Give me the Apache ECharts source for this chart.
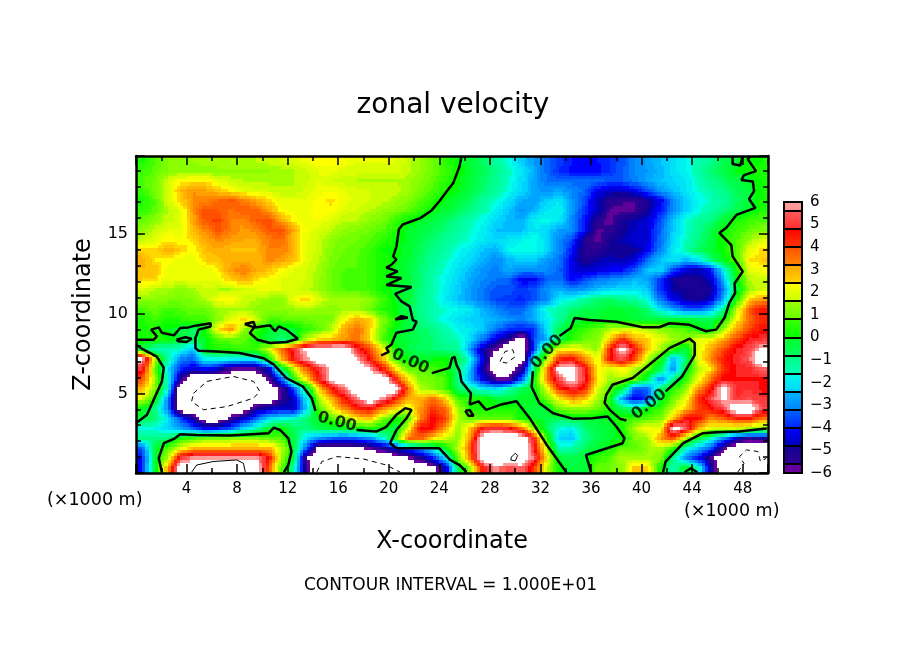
<!DOCTYPE html>
<html>
<head>
<meta charset="utf-8">
<title>zonal velocity</title>
<script src="https://cdn.jsdelivr.net/npm/echarts@6/dist/echarts.min.js"></script>
<style>
html, body { margin: 0; padding: 0; background: #fff; }
#main { width: 904px; height: 654px; }
</style>
</head>
<body>
<div id="main"></div>
<script>
var FONT = '"DejaVu Sans", sans-serif';
var Z_TOP = 19.9;

// zonal velocity, top row first, 1 km wide cells. white areas (off the scale) are 7 / -7
var rows = [
[0.3,0.8,1.2,1.3,1.4,1.5,1.6,1.6,1.6,1.6,1.7,1.8,1.9,2.1,2.4,2.3,2.2,2.0,2.0,2.0,2.0,1.7,1.4,1.0,0.5,0.1,-0.3,-0.7,-1.2,-1.7,-2.3,-2.8,-3.3,-3.7,-4.0,-4.1,-4.0,-3.8,-3.5,-3.0,-2.7,-2.4,-2.1,-1.8,-1.4,-1.1,-0.5,-0.1,0.1,0.2],
[0.6,0.9,1.2,1.3,1.3,1.3,1.3,1.4,1.4,1.4,1.4,1.5,1.6,1.8,2.0,2.1,1.9,1.9,1.9,1.9,1.9,1.7,1.4,1.0,0.6,0.2,-0.2,-0.6,-1.0,-1.5,-2,-2.6,-3.3,-3.8,-4.1,-4.2,-4.1,-3.8,-3.4,-3,-2.8,-2.5,-2.1,-1.8,-1.3,-0.8,-0.4,0,0.2,0.3],
[0.7,1.1,1.8,2.3,2.4,2.4,2.0,1.7,1.6,1.5,1.5,1.5,1.6,1.7,2,1.8,1.7,1.6,1.6,1.6,1.6,1.5,1.2,0.9,0.5,0.1,-0.3,-0.7,-1.1,-1.6,-2.1,-2.7,-3.2,-3.3,-3.3,-3.2,-3.3,-3.5,-3.4,-3.1,-2.7,-2.4,-2.2,-2.0,-1.5,-1.0,-0.7,-0.4,-0.1,0.2],
[0.6,1.1,1.8,2.8,3.2,3,2.7,2.3,2,1.9,1.8,1.7,1.6,1.9,2.1,2.2,2,1.9,1.8,1.7,1.7,1.5,1.1,0.7,0.3,0,-0.4,-0.8,-1.2,-1.7,-2.2,-2.7,-2.9,-2.7,-3,-3.3,-4.2,-4.6,-4.6,-4.2,-3.5,-2.8,-2.4,-2,-1.6,-1.3,-1.0,-0.6,-0.3,0.2],
[0.3,0.8,1.8,2.5,3.3,3.3,3.6,3.9,3.4,3,2.5,2,2,2,2.3,2.5,2.1,1.9,1.8,1.7,1.5,1.2,0.8,0.4,0,-0.3,-0.7,-1.2,-1.6,-2.1,-2.6,-2.8,-2.3,-2,-2.9,-3.6,-4.7,-5.3,-5.5,-5.6,-5,-4.2,-3,-2.3,-1.8,-1.5,-1.2,-0.7,-0.3,0.3],
[0.5,0.9,1.6,1.9,3.2,4,3.8,3.5,3.8,3.8,3.1,2.3,2.1,2.1,2.4,2.3,1.9,1.8,1.6,1.4,1.2,0.9,0.5,0.1,-0.2,-0.6,-1,-1.4,-1.9,-2.4,-2.9,-2.5,-2,-1.8,-2.8,-3.8,-4.5,-5.7,-5.8,-5.6,-4.9,-4,-3,-2.3,-1.7,-1.3,-0.9,-0.5,-0.1,0.3],
[0.9,1.3,1.7,1.9,3,3.9,4.1,3.4,3.3,3.8,4,3,2.3,2.1,2.2,1.9,1.7,1.6,1.3,1.1,0.6,0.2,-0.1,-0.4,-0.7,-1,-1.4,-1.8,-2.2,-2.5,-2.6,-1.9,-1.7,-2,-3,-4,-5.3,-5.8,-5,-4.7,-4.5,-3.5,-2.4,-1.6,-1.2,-0.9,-0.2,0.3,0.6,0.8],
[1.3,1.7,2,2,2.8,3.3,3.9,3.4,3.1,3.3,3.8,4,2.9,2.1,1.9,1.6,1.3,1.2,1,0.8,0.4,-0.1,-0.3,-0.6,-0.9,-1.2,-1.6,-1.9,-2.4,-2.5,-2.4,-2,-2.2,-2.8,-2.9,-4.1,-5.7,-5.5,-4.9,-4.6,-4.4,-3.3,-2.3,-1.6,-1.1,-0.4,0.2,0.6,0.9,1.2],
[1.7,2,2.4,2.2,2.5,3,3.3,3.1,3,3,3.4,3.6,2.8,2,1.7,1.3,1.1,1,0.8,0.5,0.2,-0.1,-0.5,-0.8,-1.1,-1.4,-1.7,-2,-2.2,-2.0,-1.8,-1.6,-2.2,-3,-3.6,-5.4,-5.7,-5,-4.7,-4.5,-4.4,-3.2,-2.2,-1.5,-0.9,-0.4,0.3,0.8,1.4,2],
[2.5,2.4,3,2.6,2.2,2.8,3,2.8,2.8,2.8,3.4,3.4,2.9,2,1.7,1.2,1,0.9,0.6,0.2,0.1,-0.1,-0.6,-1,-1.3,-1.7,-2,-2.4,-2.6,-1.8,-1.7,-1.6,-2.2,-3,-4,-5.3,-5.4,-4.9,-5,-4.9,-4.2,-3,-2,-1.4,-0.7,-0.2,0.2,0.8,2,2.5],
[3,2.4,2.3,2.1,2,2.6,2.7,3,3,2.8,3.3,3.1,2.7,2,1.6,1.1,0.9,0.8,0.5,0.3,0.1,-0.2,-0.7,-1.1,-1.5,-1.9,-2.2,-2.6,-3,-2.5,-2.3,-2.3,-2.8,-3.2,-4.3,-5.2,-4.8,-4.7,-4.8,-4.4,-3.2,-2.4,-2,-2.5,-2,-0.9,0.1,0.6,2.4,2.6],
[2.8,2.8,2.1,2,2,2,2.4,3.1,3.4,3,2.7,2.3,2,1.8,1.5,1,0.8,0.8,0.5,0.3,0,-0.3,-0.8,-1.3,-1.7,-2.1,-2.5,-2.9,-3.1,-2.6,-3,-3,-3,-3.3,-4.3,-4.6,-4.4,-4.2,-4,-3.4,-2.4,-2.2,-3.6,-4.5,-4.7,-4,-1.8,0.2,2,2.2],
[2.6,2.5,2,2,2,2,2.1,2.6,3,2.5,2.2,2,1.9,1.8,1.4,1,0.7,0.8,0.5,0.3,0,-0.3,-0.8,-1.4,-1.8,-2.2,-2.7,-3,-3.2,-3.3,-4.2,-4.2,-3.3,-3.2,-4.2,-3.6,-3.2,-3,-2.8,-2.5,-2.7,-3.8,-5,-5.3,-5,-4.6,-2.5,0,1.6,1.7],
[1.9,1.6,1.5,1.3,1.5,1.8,1.6,1.6,1.8,2,2,2,1.9,1.7,1.4,1,0.8,0.8,0.6,0.2,-0.1,-0.3,-0.9,-1.4,-1.9,-2.3,-2.8,-3.2,-3.5,-3.5,-3.7,-3.5,-2.9,-2.6,-3,-2.8,-2.4,-2.2,-2.1,-2,-2.4,-3.8,-4.8,-5,-5.2,-5,-3,-0.5,1.4,1.8],
[1.3,1.3,1.2,1.1,1.2,1.6,2.2,2.4,1.8,1.6,1.4,1.3,2.1,2.6,1.9,1.5,1.5,1.5,1.3,0.7,0,-0.2,-1,-1.4,-2,-2.4,-2.8,-3.2,-3.6,-3.7,-3.9,-3.5,-3,-1.9,-1.7,-1.2,-0.8,-0.6,-1,-1.2,-1.8,-3.2,-4.2,-4.8,-5,-4.5,-2.5,0.3,2.6,3.2],
[0.7,1,0.6,0.8,1,1,1.4,1.5,1.6,1.3,1.2,1.3,1.4,1.5,1.3,1.2,1.5,1.5,1,0.4,0.1,-0.5,-1,-1.4,-1.6,-1.8,-2,-2.6,-3,-3.4,-3.3,-2.6,-1.6,-1.3,-0.8,-0.5,-0.4,-0.2,-0.2,-0.3,-0.8,-2,-2.6,-3.3,-3.4,-2.6,-1,1.6,3.8,4.6],
[0.3,0.7,0.3,0.4,0.7,0.6,1.3,2,2.5,1.8,0.8,0.8,1,1,1.1,1.2,2.3,3,2.6,1.2,0.4,-0.4,-0.9,-1.4,-1.8,-2.1,-2.3,-2.4,-2.6,-2.9,-3.1,-2.6,-1.9,-1.2,-0.3,-0.2,-0.1,0,-0.1,-0.3,-0.4,-0.2,-0.3,-0.3,-0.4,-0.5,0.2,2.2,3.6,4.3],
[0.3,0.4,0,-0.2,-0.8,0.3,2.4,3.3,1.4,0.5,-0.1,-0.3,-0.2,0.5,0.9,1.6,3,3.6,2.6,1,0,-0.3,-0.7,-0.9,-1.4,-1.8,-2,-2.4,-3.2,-3.8,-4,-3.8,-2,-0.5,0.2,0.6,1,1.6,1.8,1.9,1.6,1.3,1,0.8,0.2,-0.1,1.6,3,4,4.6],
[0.2,0.5,0.2,-0.3,-0.6,0,0.8,1,0.9,0.3,-0.4,-0.9,-0.3,1.8,2.5,2.8,3.2,3.6,2.5,0.8,-0.1,-0.3,-0.6,-0.8,-1.2,-1.5,-2.2,-3.2,-4.5,-5.3,-7,-3.5,-2.6,-0.5,0.4,1,1.2,2.6,4.4,3,2.6,2,1.5,1.2,2,2.2,3,4,4.8,5],
[-0.3,-1.5,-1.4,-1.6,-2.5,0.1,0.3,0.4,0.6,0.6,1.8,3.5,5,6.2,7,7,7,5,4,2.3,0.3,-0.4,-0.7,-0.8,-1,-1.1,-3,-5,-5.8,-7,-7,-3.8,0.2,2.2,2.4,1.8,1.3,4.4,6.5,4.6,2.6,1.5,0.5,-0.4,2,3,4,4.8,5.2,6.2],
[6.2,1.5,-1.2,-3,-3.4,-1.6,-1.6,-1.8,-2,-2,0.2,2.8,4.8,5.8,7,7,7,6,4.6,3,0.7,0,-0.2,0,0.2,-0.4,-2,-4.5,-7,-7,-7,-1.5,1.5,4.3,4.6,3.3,2,4.6,5.3,4,1.6,0.3,-2.6,-0.8,2,3.3,4.5,4.9,5.4,7],
[5,1,-2,-3.8,-4.6,-4,-4.6,-5.6,-5.8,-5.6,-4.6,-0.5,1.8,3.8,5,6.2,7,7,6,4.6,2.6,1,0.8,0.7,0.3,-0.7,-2.6,-5,-7,-7,-5.2,-0.8,3.2,6.4,6.5,4.8,2.4,1.8,2.4,1.5,0.8,-0.5,-3,-0.2,1.6,2.5,4.3,4.8,4.9,5.6],
[4,1.4,-1.6,-5,-7,-7,-7,-7,-7,-7,-5.7,-3.5,0.4,2.5,4.6,6.5,7,7,7,7,4.5,2.4,1.2,1,0.7,-1,-2.8,-4.4,-5.7,-5.7,-3.5,0.1,3.4,5.4,6.6,5,2.5,1.4,1.6,1,-0.5,-3,-1,0.5,2,3.6,4.8,4.8,4.8,4.8],
[3,1.2,-1.7,-7,-7,-7,-7,-7,-7,-7,-7,-5.6,-3.5,-0.6,2.7,4.6,5.6,7,7,7,7,3.6,1.6,1.2,0.6,-0.6,-1.3,-2,-2.3,-1.4,-0.6,0,2,4.4,5,4.5,2,0.8,-0.3,-3.4,-3.3,-0.8,0.4,1.3,3.2,4.5,6.6,4.9,5,4.7],
[2,0.3,-3,-7,-7,-7,-7,-7,-7,-7,-7,-5.5,-4.5,-2,1.5,3,4.6,5.6,7,5.8,4.6,3,2.8,3.6,2.5,0.6,0.3,0.2,-0.2,-0.4,-0.1,-0.1,1.1,2.3,3.3,2.8,1.6,0.3,-3,-4.4,-3.6,-0.2,1,2,4.2,5.3,6.2,5,5.3,5],
[0.1,-1,-3,-7,-7,-7,-7,-7,-7,-5,-4.7,-4.4,-4.7,-2.2,0.8,2.2,3.4,4.4,4.7,3.5,2.6,1.8,3.2,4.2,3.6,1.5,0.2,0.4,0.3,0.4,0.1,-0.4,-0.2,1.1,1.4,1.4,1,0.3,-0.6,-0.8,0.1,0.6,1.7,2.7,4,4.6,5.2,7,7,5.2],
[-0.3,-0.8,-2,-3.6,-5,-7,-7,-5.5,-4.6,-3.4,-2.2,-1.8,-1.5,-0.8,0.1,0.8,1.4,2.4,2.8,1.3,0.2,0.6,3.3,4.8,4,1.6,0.8,1,1,0.9,0.2,-0.1,-0.5,-0.5,-0.3,-0.3,-0.2,-0.1,0.5,0.6,0.8,1.2,2.6,4.8,4.6,3.2,3.8,4.4,4.6,3.5],
[-1.7,-1.8,-2.2,-2.6,-3.5,-4.2,-4,-3.4,-2.2,-1.4,-0.2,0.1,-0.6,-0.9,-0.5,-0.3,-0.1,0.1,0.3,0.1,-0.5,2,4.7,4.6,3,1.4,2.8,4.8,5,4.8,3.6,1.2,-0.5,-1.7,-1.9,-0.8,-0.4,-0.2,0.4,1.6,2.3,2,6.5,5.4,2.9,2,1.8,1.8,1.5,1],
[-1,-1,-0.8,0.3,0.7,1,1.1,1.2,1.3,1.3,1,0.8,-0.5,-2.2,-3,-3.4,-3.6,-3.4,-3,-2,0.2,3.6,3.8,2.4,1.8,1.2,3.4,7,7,7,7,4.6,0.4,-2.2,-2.4,-1,-0.5,-0.2,0.1,1.2,1.4,3.2,4,1.5,-0.3,-1.5,-3,-4.5,-5.5,-5],
[-3.5,-0.3,0.8,2,2.8,3,3,3,3,3,3,1.8,-0.3,-3.5,-6.5,-6.5,-6.5,-6.2,-5.8,-5.2,-4.5,-3.6,-2.8,-1.6,0.1,1.6,4,7,7,7,7,5,1.8,-1.5,-1.2,-0.6,-0.2,0.3,0.9,0.8,1.4,1.6,0.5,-1.6,-2.5,-3.5,-5.7,-7,-7,-7],
[-4,-0.3,1.5,5,5.8,5.9,5.9,5.9,5.9,5.9,4.6,1.5,-0.5,-6,-7,-7,-7,-7,-7,-7,-6.5,-6,-5.2,-4,-2,1,3.6,7,7,7,7,5.4,2.2,-0.3,-0.6,-0.2,0.5,0.8,1.6,1.4,1.5,1.2,-1,-3,-4,-5.5,-7,-7,-7,-7],
[-4,-0.2,3,6.8,7,7,7,7,7,7,3.8,1,-1.3,-5.5,-7,-7,-7,-7,-7,-7,-7,-7,-7,-6.5,-4.5,-0.5,1.5,4.8,5.8,5.2,5.6,4.2,1.8,0.1,-0.4,-0.2,1,1,1.4,2.8,2.5,0.3,-1.5,0.1,-1.5,-5,-7,-7,-7,-7]
];

// colour bar: band edges and the two end colours of every band
var bandEdges = [-6,-5.6,-4.8,-4,-3.2,-2.4,-1.6,-0.8,0,0.8,1.6,2.4,3.2,4,4.8,5.6,6];
var bandColors = [
['#7000a0','#5c0098'],['#300090','#100098'],['#0000b8','#0000ff'],['#0020ff','#0068ff'],
['#0080ff','#00b8ff'],['#00d0ff','#00ffe8'],['#00ffb8','#00ff80'],['#00ff60','#00ff28'],
['#00ff00','#40ff00'],['#60ff00','#a0ff00'],['#c8ff00','#ffff00'],['#ffd800','#ffa000'],
['#ff8800','#ff5000'],['#ff3800','#ff0000'],['#ff2828','#ff6060'],['#ff9090','#ffa0a0']
];
var barTicks = [-6,-5,-4,-3,-2,-1,0,1,2,3,4,5,6];

// zero contour, traced in km
var zeroContours = [
[[25.75,19.9],[25.6,19.26],[25.1,18.2],[24.8,17.9],[24,17.06],[23.4,16.5],[22.5,16],[21.1,15.6],[20.8,15.3],[20.6,14.2],[20.35,13.6],[20.6,13.4],[20.2,13.07],[19.8,12.9],[20.7,12.66],[19.8,12.34],[21,12.24],[19.8,11.8],[21.8,11.67],[20.5,11.25],[21,10.77],[21.65,10.46],[21.9,9.6],[22.2,9.5],[21.9,9],[20.6,8.8],[20.2,8.05],[19.8,7.84],[20,7.6],[19.4,7.38]],
[[23.4,6.27],[24.8,6.6],[25,7.2],[25.2,7.3],[25.35,6.8],[25.6,6.4],[25.75,5.75],[26.5,5],[26.4,4.3],[27.1,4.5],[27.7,3.96],[28.8,4.28],[30.1,4.5],[31.15,3.44],[32.5,1.76],[34.05,0.05]],
[[33.5,8.6],[34.4,9.1],[34.7,9.73],[35.9,9.6],[38,9.5],[40.1,9.15],[41.4,9.15],[42.2,9.4],[43.8,9.3],[45.1,8.9],[45.9,9],[46.55,9.73],[46.95,10.7],[47.4,11.3],[47.35,11.9],[48,12.65],[47.2,13.6],[47.1,14.3],[46.15,15.07],[46.7,15.4],[47.5,16.2],[49,16.64],[48.5,17.2],[48.9,17.7],[48.8,18.3],[47.9,18.4],[48.1,18.7],[49.05,18.95],[48.4,19.7],[48.6,19.9]],
[[47.2,19.9],[47.2,19.4],[47.8,19.3],[48,19.9]],
[[31.4,6.4],[31.3,5.4],[31.9,4.4],[33,3.75],[34.6,3.4],[36.1,3.44],[37.3,3.55],[38,2.92],[38.65,2.18],[38.5,1.87],[35.6,1.13],[36,0.05]],
[[38.8,3.3],[38.3,3.4],[37.5,3.95],[37.07,4.4],[37.2,4.9],[37.7,5.54],[39.3,5.96],[40.6,6.8],[42.2,7.84],[43.8,8.43],[44.2,8.16],[44.2,7.4],[43.2,6.06],[41.9,5.12]],
[[41.7,0.05],[41.9,0.72],[43.3,1.87],[44.85,2.5],[45.9,2.56],[47.7,2.6],[49.9,2.8]],
[[43.4,0.05],[43.9,0.3],[44.4,0.05]],
[[0,8.37],[1.4,8.37],[1.65,8.58],[1.2,9],[1.8,9.14],[2.05,8.8],[3,8.64],[3.5,9.1],[4.15,9.14],[4.7,9.25],[5.9,9.4],[5.9,9.2],[4.95,9],[4.7,8.47],[4.7,7.84],[4.95,7.68],[6.4,7.63],[8.2,7.53],[10.1,7.2],[10.9,6.8],[11.9,5.96],[13.2,5.43],[13.9,4.7],[14.2,3.9]],
[[17.45,2.7],[19,2.6],[19.8,2.9],[20.6,3.65],[21.3,4.07],[21.8,3.96],[21.4,3.44],[20.6,2.7],[20.1,1.87],[20.6,1.55],[21.9,1.55],[24,1.55],[24.85,0.82],[25.6,0.5],[26.15,0.05]],
[[3.2,8.37],[3.9,8.52],[4.4,8.43],[4,8.22],[3.35,8.27],[3.2,8.37]],
[[8.6,9.35],[9.3,9.48],[9.45,9.14],[10.6,9.27],[11,8.9],[11.3,9.2],[11.9,9],[12.8,8.43],[11.9,8.22],[10.6,8.16],[9.6,8.37],[9,8.79],[9.35,9.14],[8.6,9.35]],
[[20.5,9.63],[21,9.85],[21.5,9.75],[20.5,9.63]],
[[0,3.13],[0.87,3.65],[1.4,4.6],[2.05,5.75],[2.2,6.6],[1.65,7.3],[0.6,7.74],[0,8.05]],
[[2.05,0.05],[1.8,0.93],[2.2,1.87],[3,2.14],[3.5,2.44],[4.8,2.39],[7.45,2.35],[10.5,2.5],[10.9,2.85],[11.4,2.7],[12.05,2.18],[12.3,1.35],[12.05,0.5],[11.7,0.05]],
[[26.05,3.9],[26.4,3.95],[26.7,3.6],[26.3,3.6],[26.05,3.9]]
];
var labelPoints = [[15.9,3.2,-15],[21.7,7,-25],[32.5,7.6,48],[40.6,4.3,38]];
// -10 contours dashed, +10 contours thin and solid
var dashedContours = [
[[4.55,5],[5.6,5.75],[7.7,6.06],[9.3,5.75],[9.8,5.12],[9.3,4.7],[7.2,4.17],[5.35,3.97],[4.4,4.49],[4.55,5]],
[[14.3,0.05],[14.7,0.72],[15.9,1.03],[18,0.88],[19.8,0.5],[20.9,0.05]],
[[28.8,7],[29.2,7.63],[29.8,7.74],[30,7.3],[29.3,6.9],[28.8,7]],
[[47.6,0.05],[48.1,0.6],[47.75,1.03],[48.3,1.45],[49.2,1.35],[49.4,0.72],[49.85,0.92]]
];
var thinContours = [
[[4.4,0.05],[4.8,0.5],[6.1,0.72],[7.97,0.82],[8.5,0.61],[8.65,0.05]],
[[29.7,1],[30,1.24],[30.2,1.1],[30,0.76],[29.65,0.82],[29.7,1]]
];

// stepped colour, four shades inside every band
function colorOf(v) {
    if (v > 6 || v < -6) return '#ffffff';
    for (var b = 0; b < bandColors.length; b++) {
        if (v <= bandEdges[b + 1]) {
            var f = (v - bandEdges[b]) / (bandEdges[b + 1] - bandEdges[b]);
            return echarts.color.lerp(Math.min(3, Math.floor(f * 4)) / 3, bandColors[b]);
        }
    }
    return '#ffffff';
}

var dz = Z_TOP / rows.length;
var cells = [];
rows.forEach(function (row, r) {
    row.forEach(function (v, i) {
        cells.push([i + 0.5, Z_TOP - dz * (r + 0.5), v, i, r]);
    });
});

// rows holds only what was read off the picture. each cell is shaded at draw time,
// blending to its neighbours like a filled contour plot does; nothing is added to the data
var SUB_X = 4, SUB_Z = 3;
function shadeAt(u, v) {
    u = Math.max(0, Math.min(rows[0].length - 1, u));
    v = Math.max(0, Math.min(rows.length - 1, v));
    var i = Math.min(Math.floor(u), rows[0].length - 2), r = Math.min(Math.floor(v), rows.length - 2);
    var fu = u - i, fv = v - r;
    return (rows[r][i] * (1 - fu) + rows[r][i + 1] * fu) * (1 - fv) +
        (rows[r + 1][i] * (1 - fu) + rows[r + 1][i + 1] * fu) * fv;
}

function renderCell(params, api) {
    var x = api.value(0), z = api.value(1), i = api.value(3), r = api.value(4);
    var children = [];
    for (var a = 0; a < SUB_X; a++) {
        for (var b = 0; b < SUB_Z; b++) {
            var p0 = api.coord([x - 0.5 + a / SUB_X, z + dz / 2 - dz * b / SUB_Z]);
            var p1 = api.coord([x - 0.5 + (a + 1) / SUB_X, z + dz / 2 - dz * (b + 1) / SUB_Z]);
            var left = Math.round(p0[0]), top = Math.round(p0[1]);
            children.push({
                type: 'rect',
                shape: { x: left, y: top, width: Math.round(p1[0]) - left, height: Math.round(p1[1]) - top },
                style: { fill: colorOf(shadeAt(i + (a + 0.5) / SUB_X - 0.5, r + (b + 0.5) / SUB_Z - 0.5)) }
            });
        }
    }
    return { type: 'group', children: children };
}

function renderBand(params, api) {
    var top = api.coord([0, api.value(2)]), bot = api.coord([1, api.value(1)]);
    var c = bandColors[params.dataIndex];
    return {
        type: 'rect',
        shape: { x: top[0], y: Math.round(top[1]), width: bot[0] - top[0], height: Math.round(bot[1]) - Math.round(top[1]) },
        style: {
            fill: new echarts.graphic.LinearGradient(0, 1, 0, 0, [{ offset: 0, color: c[0] }, { offset: 1, color: c[1] }]),
            stroke: '#000', lineWidth: 2
        }
    };
}

function lineSeries(points, width, dashed) {
    return {
        type: 'line', data: points, showSymbol: false, silent: true, z: 4, clip: true,
        lineStyle: { color: '#000', width: width, type: dashed ? [5, 4] : 'solid' }
    };
}

var series = [{
    type: 'custom', data: cells, renderItem: renderCell, encode: { x: 0, y: 1 }, silent: true, z: 2
}];
zeroContours.forEach(function (c) { series.push(lineSeries(c, 2.5, false)); });
dashedContours.forEach(function (c) { series.push(lineSeries(c, 1, true)); });
thinContours.forEach(function (c) { series.push(lineSeries(c, 1, false)); });
series.push({
    type: 'scatter', symbolSize: 0, silent: true, z: 5,
    data: labelPoints.map(function (p) {
        return {
            value: [p[0], p[1]],
            label: { show: true, position: 'inside', formatter: '0.00', rotate: p[2], color: '#000', fontFamily: FONT, fontSize: 16, fontWeight: 'bold' }
        };
    })
});
series.push({
    type: 'custom', xAxisIndex: 2, yAxisIndex: 2, silent: true, z: 3,
    data: bandColors.map(function (c, b) { return [0, bandEdges[b], bandEdges[b + 1]]; }),
    renderItem: renderBand, encode: { y: [1, 2] }
});

var axisLine = { show: true, onZero: false, lineStyle: { color: '#000', width: 2.5 } };
var tickStyle = { color: '#000', width: 1.5 };

var option = {
    animation: false,
    backgroundColor: '#fff',
    title: {
        text: 'zonal velocity', left: 448, top: 87, textAlign: 'center',
        textStyle: { fontFamily: FONT, fontSize: 28, fontWeight: 'normal', color: '#000' }
    },
    grid: [
        { left: 136, top: 156, width: 632, height: 317 },
        { left: 784, top: 202, width: 18, height: 271 }
    ],
    xAxis: [
        {
            type: 'value', gridIndex: 0, min: 0, max: 50, interval: 4, z: 6, position: 'bottom',
            name: 'X-coordinate', nameLocation: 'middle', nameGap: 57,
            nameTextStyle: { fontFamily: FONT, fontSize: 24, color: '#000' },
            axisLine: axisLine, splitLine: { show: false },
            axisTick: { inside: true, length: 9, lineStyle: tickStyle },
            minorTick: { show: true, splitNumber: 2, length: 5, lineStyle: tickStyle },
            axisLabel: { margin: 9, showMinLabel: false, showMaxLabel: false, fontFamily: FONT, fontSize: 15, color: '#000' }
        },
        {
            type: 'value', gridIndex: 0, min: 0, max: 50, interval: 4, z: 6, position: 'top',
            axisLine: axisLine, splitLine: { show: false },
            axisTick: { inside: true, length: 9, lineStyle: tickStyle },
            minorTick: { show: true, splitNumber: 2, length: 5, lineStyle: tickStyle },
            axisLabel: { show: false }
        },
        { type: 'value', gridIndex: 1, min: 0, max: 1, show: false }
    ],
    yAxis: [
        {
            type: 'value', gridIndex: 0, min: 0, max: Z_TOP, interval: 5, z: 6, position: 'left',
            name: 'Z-coordinate', nameLocation: 'middle', nameGap: 40, nameRotate: 90,
            nameTextStyle: { fontFamily: FONT, fontSize: 24, color: '#000' },
            axisLine: axisLine, splitLine: { show: false },
            axisTick: { inside: true, length: 9, lineStyle: tickStyle },
            minorTick: { show: true, splitNumber: 5, length: 5, lineStyle: tickStyle },
            axisLabel: { margin: 8, showMinLabel: false, showMaxLabel: false, fontFamily: FONT, fontSize: 16, color: '#000' }
        },
        {
            type: 'value', gridIndex: 0, min: 0, max: Z_TOP, interval: 5, z: 6, position: 'right',
            axisLine: axisLine, splitLine: { show: false },
            axisTick: { inside: true, length: 9, lineStyle: tickStyle },
            minorTick: { show: true, splitNumber: 5, length: 5, lineStyle: tickStyle },
            axisLabel: { show: false }
        },
        {
            type: 'value', gridIndex: 1, min: barTicks[0], max: barTicks[barTicks.length - 1], interval: 1, position: 'right',
            axisLine: { show: false }, axisTick: { show: false }, splitLine: { show: false },
            axisLabel: {
                margin: 8, fontFamily: FONT, fontSize: 15, color: '#000',
                formatter: function (v) { return v < 0 ? '\u2212' + (-v) : String(v); }
            }
        }
    ],
    graphic: [
        { type: 'text', left: 47, top: 491, style: { text: '(\u00d71000 m)', fontFamily: FONT, fontSize: 17.5, fill: '#000' } },
        { type: 'text', left: 684, top: 502, style: { text: '(\u00d71000 m)', fontFamily: FONT, fontSize: 17.5, fill: '#000' } },
        { type: 'text', left: 304, top: 577, style: { text: 'CONTOUR INTERVAL = 1.000E+01', fontFamily: FONT, fontSize: 17, fill: '#000' } }
    ],
    series: series
};

var myChart = echarts.init(document.getElementById('main'), null, { renderer: 'canvas' });
myChart.setOption(option);
</script>
</body>
</html>
